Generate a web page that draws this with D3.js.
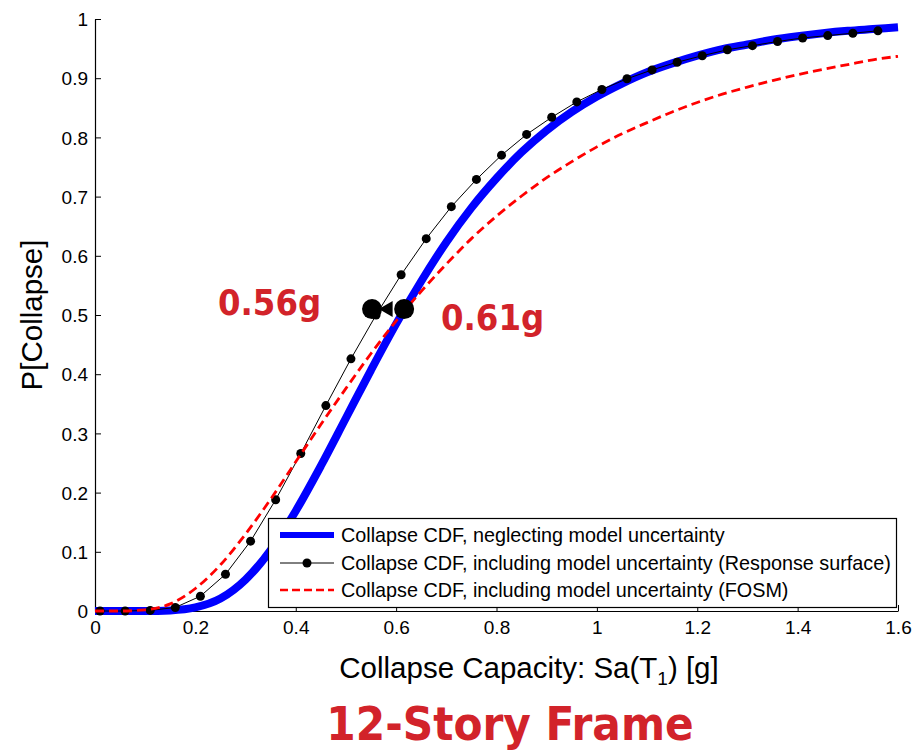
<!doctype html>
<meta charset="utf-8">
<title>12-Story Frame collapse CDF</title>
<script src="https://cdn.jsdelivr.net/npm/d3@7"></script>
<style>
  body { margin: 0; background: #fff; }
  svg { display: block; font-family: "Liberation Sans", Arial, sans-serif; }
</style>
<body>
<div id="chart"></div>
<script>

    // blue: collapse CDF neglecting model uncertainty
    var sa = [0, 0.05, 0.10, 0.15, 0.20, 0.25, 0.30, 0.35, 0.40, 0.45, 0.50, 0.55, 0.60, 0.65, 0.70, 0.75,
              0.80, 0.85, 0.90, 0.95, 1.00, 1.05, 1.10, 1.15, 1.20, 1.25, 1.30, 1.35, 1.40, 1.45, 1.50, 1.55, 1.60];
    var pNeglect = [0, 0, 0, 0.001, 0.006, 0.021, 0.053, 0.103, 0.169, 0.245, 0.326, 0.407, 0.485, 0.557, 0.623, 0.681,
                    0.731, 0.775, 0.812, 0.843, 0.869, 0.891, 0.910, 0.925, 0.938, 0.949, 0.957, 0.965, 0.971, 0.976, 0.980, 0.983, 0.986];
    // red dashed: FOSM
    var pFosm = [0, 0, 0.002, 0.012, 0.038, 0.078, 0.130, 0.189, 0.252, 0.315, 0.376, 0.435, 0.490, 0.540, 0.586, 0.629,
                 0.667, 0.701, 0.732, 0.759, 0.784, 0.806, 0.825, 0.843, 0.859, 0.873, 0.885, 0.896, 0.906, 0.915, 0.923, 0.931, 0.937];
    // black with dots: response surface
    var saRS = [0.01, 0.06, 0.11, 0.16, 0.21, 0.26, 0.31, 0.36, 0.41, 0.46, 0.51, 0.56, 0.61, 0.66, 0.71, 0.76,
                0.81, 0.86, 0.91, 0.96, 1.01, 1.06, 1.11, 1.16, 1.21, 1.26, 1.31, 1.36, 1.41, 1.46, 1.51, 1.56];
    var pRS = [0, 0, 0.001, 0.006, 0.025, 0.062, 0.118, 0.188, 0.266, 0.347, 0.426, 0.500, 0.568, 0.629, 0.683, 0.729,
               0.770, 0.805, 0.834, 0.860, 0.881, 0.899, 0.914, 0.927, 0.938, 0.948, 0.955, 0.962, 0.968, 0.972, 0.976, 0.980];

    var xTicks = [0, 0.2, 0.4, 0.6, 0.8, 1, 1.2, 1.4, 1.6];
    var yTicks = [0, 0.1, 0.2, 0.3, 0.4, 0.5, 0.6, 0.7, 0.8, 0.9, 1];

    // median markers
    var medianSa = [0.552, 0.616];
    var medianP = 0.51;
    var medianLabels = ['0.56g', '0.61g'];

    var legendLabels = ['Collapse CDF, neglecting model uncertainty',
                        'Collapse CDF, including model uncertainty (Response surface)',
                        'Collapse CDF, including model uncertainty (FOSM)'];

    var W = 913, H = 751
            , plotLeft = 95, plotRight = 898, plotTop = 19, plotBottom = 611
            , red = '#d2232a';

    var x = d3.scaleLinear().domain([0, 1.6]).range([plotLeft, plotRight]);
    var y = d3.scaleLinear().domain([0, 1]).range([plotBottom, plotTop]);

    var svg = d3.select('#chart').append('svg')
            .attr('width', W)
            .attr('height', H);

    // axes, ticks inside like matlab
    var xAxis = svg.append('g')
            .attr('transform', 'translate(0,' + plotBottom + ')')
            .call(d3.axisBottom(x).tickValues(xTicks).tickSizeInner(-6).tickSizeOuter(0)
                    .tickFormat(d3.format('')));
    var yAxis = svg.append('g')
            .attr('transform', 'translate(' + plotLeft + ',0)')
            .call(d3.axisLeft(y).tickValues(yTicks).tickSizeInner(-6).tickSizeOuter(0)
                    .tickFormat(d3.format('')));

    [xAxis, yAxis].forEach(function(g) {
        g.select('.domain').attr('stroke', '#000').attr('stroke-width', 1.2);
        g.selectAll('.tick line').attr('stroke', '#000');
        g.selectAll('.tick text')
                .attr('fill', '#000')
                .style('font-family', '"Liberation Sans", Arial, sans-serif')
                .style('font-size', '19px');
    });
    xAxis.selectAll('.tick text').attr('y', 9).attr('dy', '0.72em');
    yAxis.selectAll('.tick text').attr('x', -7).attr('dy', '0.35em');

    // curves
    var smooth = d3.line()
            .x(function(d) { return x(d[0]) })
            .y(function(d) { return y(d[1]) })
            .curve(d3.curveMonotoneX);
    var straight = d3.line()
            .x(function(d) { return x(d[0]) })
            .y(function(d) { return y(d[1]) });

    var neglect = d3.zip(sa, pNeglect)
            , fosm = d3.zip(sa, pFosm)
            , rs = d3.zip(saRS, pRS);

    svg.append('path')
            .attr('d', smooth(neglect))
            .attr('fill', 'none')
            .attr('stroke', '#0000ff')
            .attr('stroke-width', 8);

    svg.append('path')
            .attr('d', straight(rs))
            .attr('fill', 'none')
            .attr('stroke', '#000')
            .attr('stroke-width', 1);

    svg.selectAll('circle.rs')
            .data(rs)
            .enter().append('circle')
            .classed('rs', true)
            .attr('cx', function(d) { return x(d[0]) })
            .attr('cy', function(d) { return y(d[1]) })
            .attr('r', 4.5)
            .attr('fill', '#000');

    svg.append('path')
            .attr('d', smooth(fosm))
            .attr('fill', 'none')
            .attr('stroke', '#ff0000')
            .attr('stroke-width', 2.8)
            .attr('stroke-dasharray', '9,5');

    // legend
    var lg = svg.append('g');
    lg.append('rect')
            .attr('x', 268.5).attr('y', 518.5)
            .attr('width', 628).attr('height', 89)
            .attr('fill', '#fff')
            .attr('stroke', '#000')
            .attr('stroke-width', 1.2);

    var rowY = [535, 563, 590];
    lg.append('line')
            .attr('x1', 280).attr('x2', 334).attr('y1', rowY[0]).attr('y2', rowY[0])
            .attr('stroke', '#0000ff').attr('stroke-width', 6);
    lg.append('line')
            .attr('x1', 280).attr('x2', 334).attr('y1', rowY[1]).attr('y2', rowY[1])
            .attr('stroke', '#000').attr('stroke-width', 1);
    lg.append('circle')
            .attr('cx', 307).attr('cy', rowY[1]).attr('r', 4.5).attr('fill', '#000');
    lg.append('line')
            .attr('x1', 280).attr('x2', 334).attr('y1', rowY[2]).attr('y2', rowY[2])
            .attr('stroke', '#ff0000').attr('stroke-width', 2.5).attr('stroke-dasharray', '8,4');

    lg.selectAll('text')
            .data(legendLabels)
            .enter().append('text')
            .attr('x', 341)
            .attr('y', function(d, i) { return rowY[i] })
            .attr('dy', '0.35em')
            .style('font-size', '19.8px')
            .text(function(d) { return d });

    // median markers with the small arrow between them
    svg.append('path')
            .attr('d', d3.symbol(d3.symbolTriangle, 110)())
            .attr('transform', 'translate(' + (x(medianSa[0]) + 16) + ',' + y(medianP) + ') rotate(-90)')
            .attr('fill', '#000');
    svg.selectAll('circle.median')
            .data(medianSa)
            .enter().append('circle')
            .classed('median', true)
            .attr('cx', function(d) { return x(d) })
            .attr('cy', y(medianP))
            .attr('r', 10)
            .attr('fill', '#000');

    svg.append('text')
            .attr('x', 218).attr('y', 315)
            .style('font-family', '"DejaVu Sans Condensed", "DejaVu Sans", sans-serif')
            .style('font-weight', 'bold')
            .style('font-size', '36px')
            .attr('fill', red)
            .text(medianLabels[0]);
    svg.append('text')
            .attr('x', 441).attr('y', 330)
            .style('font-family', '"DejaVu Sans Condensed", "DejaVu Sans", sans-serif')
            .style('font-weight', 'bold')
            .style('font-size', '36px')
            .attr('fill', red)
            .text(medianLabels[1]);

    // axis labels
    var xl = svg.append('text')
            .attr('x', 529).attr('y', 678)
            .attr('text-anchor', 'middle')
            .style('font-size', '29.5px');
    xl.append('tspan').text('Collapse Capacity: Sa(T');
    xl.append('tspan').attr('dy', 7).style('font-size', '19px').text('1');
    xl.append('tspan').attr('dy', -7).text(') [g]');

    svg.append('text')
            .attr('transform', 'translate(42,' + ((plotTop + plotBottom) / 2) + ') rotate(-90)')
            .attr('text-anchor', 'middle')
            .style('font-size', '29.5px')
            .text('P[Collapse]');

    // title
    svg.append('text')
            .attr('x', 510).attr('y', 740)
            .attr('text-anchor', 'middle')
            .style('font-family', '"DejaVu Sans Condensed", "DejaVu Sans", sans-serif')
            .style('font-weight', 'bold')
            .style('font-size', '47px')
            .attr('fill', red)
            .text('12-Story Frame');

</script>
</body>
